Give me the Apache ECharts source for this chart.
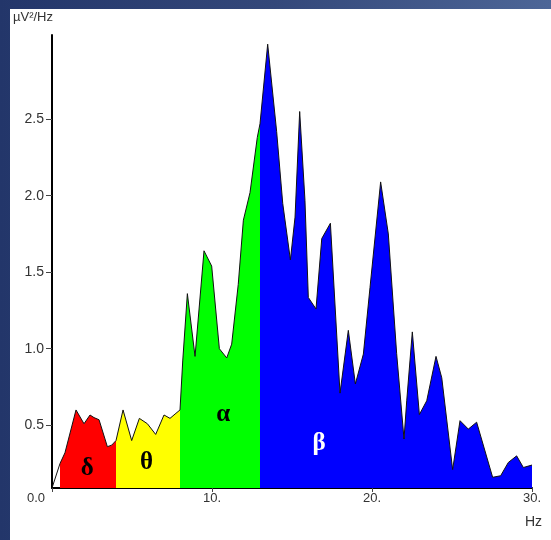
<!DOCTYPE html>
<html>
<head>
<meta charset="utf-8">
<script src="https://cdn.jsdelivr.net/npm/echarts@6/dist/echarts.min.js"></script>
<style>
  html, body { margin: 0; padding: 0; }
  body {
    width: 551px; height: 540px; overflow: hidden; position: relative;
    background: linear-gradient(90deg, #23366a 0%, #34487a 50%, #4d6697 100%);
  }
  #chart {
    position: absolute; left: 10px; top: 9px; width: 541px; height: 531px;
    background: #fff;
  }
</style>
</head>
<body>
<div id="chart"></div>
<script>
// spectrum (Hz, µV²/Hz)
var freq = [0, 0.5, 0.81, 1.5, 2.0, 2.375, 2.625, 2.94, 3.46, 3.73,
  4.0, 4.44, 4.98, 5.46, 5.96, 6.48, 7.0, 7.375, 7.69,
  8.0, 8.17, 8.46, 8.94, 9.5, 9.98, 10.46, 10.92, 11.23, 11.64, 11.96, 12.375, 12.83,
  13.0, 13.48, 14.04, 14.42, 14.9, 15.19, 15.48, 15.81, 16.02, 16.5, 16.86, 17.4,
  18.0, 18.52, 18.96, 19.46, 19.875, 20.54, 21.02, 21.54, 22.0, 22.17, 22.52, 22.96,
  23.42, 24.0, 24.36, 25.04, 25.5, 26.02, 26.54, 27.54, 28.04, 28.52, 29.04, 29.46, 30.0];
var power = [0.09, 0.25, 0.32, 0.60, 0.51, 0.567, 0.55, 0.536, 0.36, 0.37,
  0.40, 0.60, 0.40, 0.545, 0.51, 0.44, 0.567, 0.545, 0.573,
  0.60, 0.92, 1.36, 0.95, 1.64, 1.54, 1.00, 0.94, 1.03, 1.42, 1.84, 2.02, 2.38,
  2.47, 2.99, 2.42, 1.95, 1.58, 1.86, 2.55, 1.97, 1.335, 1.26, 1.72, 1.82,
  0.71, 1.12, 0.77, 0.965, 1.40, 2.09, 1.75, 0.97, 0.41, 0.66, 1.11, 0.57,
  0.66, 0.95, 0.81, 0.21, 0.53, 0.475, 0.52, 0.16, 0.17, 0.257, 0.30, 0.224, 0.24];

var bandNames = ['δ', 'θ', 'α', 'β'];
var bandFrom = [0.5, 4, 8, 13];
var bandTo = [4, 8, 13, 30];
var bandColors = ['#ff0000', '#ffff00', '#00ff00', '#0000ff'];
// where the greek letters sit (Hz, value)
var labelPos = [[2.2, 0.22], [5.9, 0.255], [10.7, 0.57], [16.7, 0.38]];
var labelColors = ['#000', '#000', '#000', '#fff'];

var yTicks = [0.5, 1.0, 1.5, 2.0, 2.5];

var points = freq.map(function (f, i) { return [f, power[i]]; });

var chart = echarts.init(document.getElementById('chart'));

var series = [];
bandNames.forEach(function (name, b) {
  series.push({
    type: 'line',
    data: points.filter(function (p) { return p[0] >= bandFrom[b] && p[0] <= bandTo[b]; }),
    symbol: 'none',
    lineStyle: { width: 0 },
    areaStyle: { color: bandColors[b], opacity: 1 },
    silent: true,
    z: 2
  });
});
series.push({
  type: 'line',
  data: points,
  symbol: 'none',
  lineStyle: { color: '#111', width: 1 },
  silent: true,
  z: 3
});
series.push({
  type: 'scatter',
  symbolSize: 0,
  itemStyle: { opacity: 1 },
  data: labelPos.map(function (p, i) {
    return {
      value: p,
      label: { color: labelColors[i] }
    };
  }),
  label: {
    show: true,
    position: 'inside',
    opacity: 1,
    formatter: function (p) { return bandNames[p.dataIndex]; },
    fontFamily: 'Liberation Serif',
    fontWeight: 'bold',
    fontSize: 25,
    textBorderWidth: 0
  },
  silent: true,
  z: 4
});

var option = {
  animation: false,
  title: [
    {
      text: 'µV²/Hz', left: 3, top: 2, padding: 0,
      textStyle: { fontFamily: 'Liberation Sans', fontSize: 13, fontWeight: 'normal', color: '#333' }
    },
    {
      text: 'Hz', left: 515, top: 506, padding: 0,
      textStyle: { fontFamily: 'Liberation Sans', fontSize: 14, fontWeight: 'normal', color: '#333' }
    }
  ],
  grid: { left: 42, right: 19, top: 26, bottom: 52, outerBoundsMode: 'none' },
  xAxis: {
    type: 'value',
    min: 0, max: 30, interval: 10,
    axisLine: { onZero: false, lineStyle: { color: '#000', width: 2 } },
    axisTick: { length: 4, lineStyle: { color: '#444' } },
    splitLine: { show: false },
    axisLabel: {
      margin: 4,
      color: '#333',
      fontFamily: 'Liberation Sans',
      fontSize: 13,
      formatter: function (v) { return v === 0 ? '{z|0.0}' : v + '.'; },
      rich: { z: { padding: [0, 32, 0, 0], fontSize: 13, color: '#333', fontFamily: 'Liberation Sans' } }
    }
  },
  yAxis: {
    type: 'value',
    min: 0.09, max: 3.05,
    axisLine: { show: true, lineStyle: { color: '#000', width: 2 } },
    axisTick: { show: true, length: 6, customValues: yTicks, lineStyle: { color: '#444' } },
    splitLine: { show: false },
    axisLabel: {
      margin: 8,
      color: '#333',
      fontFamily: 'Liberation Sans',
      fontSize: 14,
      customValues: yTicks,
      formatter: function (v) { return v.toFixed(1); }
    }
  },
  series: series
};

chart.setOption(option);
</script>
</body>
</html>
